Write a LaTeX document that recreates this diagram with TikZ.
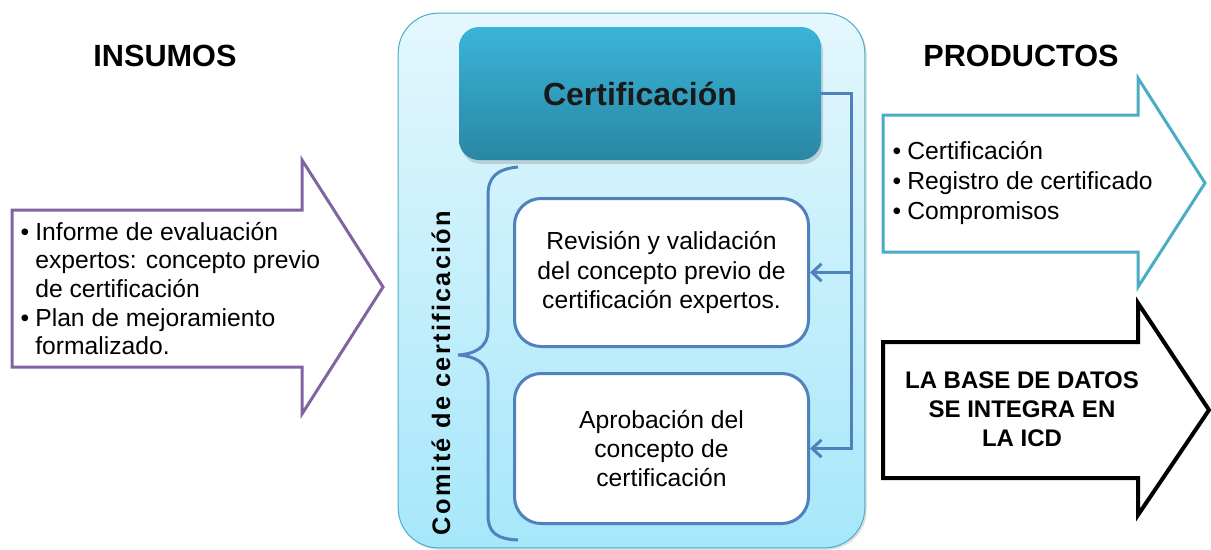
\documentclass[tikz,border=0pt]{standalone}
\usepackage{fontspec}
\setmainfont{Liberation Sans}
\usetikzlibrary{arrows.meta,shadows}
\definecolor{morado}{HTML}{8064A2}
\definecolor{celeste}{HTML}{4BACC6}
\definecolor{azul}{HTML}{4F81BD}
\definecolor{fondoA}{HTML}{E4F7FD}
\definecolor{fondoB}{HTML}{A6E7FA}
\definecolor{tealA}{HTML}{3AB4D8}
\definecolor{tealB}{HTML}{2987A3}
\newcommand{\bul}{\textbullet\hspace{4.5pt}}
\newcommand{\sng}{\phantom{\textbullet}\hspace{4.5pt}}

\begin{document}
\begin{tikzpicture}[x=0.75pt, y=-0.75pt,
    texto/.style={font=\fontsize{18.5}{21.5}\selectfont},
    titulo/.style={font=\fontsize{23}{27}\selectfont\bfseries},
    flecha/.style={line width=2.25pt, line join=miter, fill=white},
    caja/.style={draw=azul, line width=2.25pt, fill=white, rounded corners=20pt,
        minimum width=220.5pt, align=center, font=\fontsize{18.5}{22}\selectfont},
    enlace/.style={azul, line width=2.25pt, -{Straight Barb[length=7pt,width=13pt]}}]
    \useasboundingbox (0,0) rectangle (1211,550);
    % Titulos
    \node[titulo] (ins) at (165,56) {INSUMOS};
    \node[titulo] (prod) at (1021,56) {PRODUCTOS};

    % Flechas de entrada y salida
    \draw[flecha, draw=morado] (12,210) -- (302,210) -- (302,160) -- (383,287)
        -- (302,414) -- (302,367) -- (12,367) -- cycle;
    \draw[flecha, draw=celeste] (883,115) -- (1138,115) -- (1138,78) -- (1205,183)
        -- (1138,287) -- (1138,252) -- (883,252) -- cycle;
    \draw[flecha, draw=black, line width=3pt] (883,342) -- (1138,342) -- (1138,303) -- (1209,410)
        -- (1138,515) -- (1138,478) -- (883,478) -- cycle;
    \node[texto, align=left, anchor=west] (insumos) at (16,288.5)
        {\bul Informe de evaluación\\\sng expertos: concepto previo\\\sng de certificación\\\bul Plan de mejoramiento\\\sng formalizado.};
    \node[font=\fontsize{18.5}{22.5}\selectfont, align=left, anchor=west] (productos) at (888,183)
        {\bul Certificación\\\bul Registro de certificado\\\bul Compromisos};
    \node[font=\fontsize{18}{21.75}\selectfont\bfseries, align=center] (bd) at (1022,409)
        {LA BASE DE DATOS\\SE INTEGRA EN\\LA ICD};

    % Comite
    \node[draw=celeste, line width=0.75pt, rounded corners=30pt, top color=fondoA, bottom color=fondoB,
        minimum width=350pt, minimum height=401pt,
        drop shadow={shadow xshift=1.5pt, shadow yshift=-1.5pt, opacity=0.25}] (com) at (631.5,280.5) {};
    \node[top color=tealA, bottom color=tealB, rounded corners=15pt, minimum width=271.5pt, minimum height=99.75pt,
        drop shadow={shadow xshift=1.5pt, shadow yshift=-3pt, opacity=0.3},
        font=\fontsize{24}{28}\selectfont\bfseries, text=black!90] (cert) at (640,93.5) {Certificación};
    \node[caja, minimum height=111pt] (rev) at (661.5,272.5)
        {Revisión y validación\\del concepto previo de\\certificación expertos.};
    \node[caja, minimum height=112.5pt] (apr) at (661.5,448.5)
        {Aprobación del\\concepto de\\certificación};

    % Llave
    \draw[azul, line width=2.25pt] (518,167) .. controls (496,169) and (488,178) .. (488,195)
        -- (488,330) .. controls (488,348) and (474,354) .. (458,355)
        .. controls (474,356) and (488,362) .. (488,380)
        -- (488,515) .. controls (488,532) and (496,539) .. (518,540);
    \node[rotate=90, font=\fontsize{19}{23}\selectfont\bfseries\addfontfeature{LetterSpace=9}] (comlab) at (441,373)
        {Comité de certificación};

    % Conectores
    \coordinate (bus) at (851,0);
    \draw[enlace] (cert.east) -- (cert.east -| bus) |- (rev.east);
    \draw[enlace] (cert.east -| bus) |- (apr.east);
\end{tikzpicture}
\end{document}
